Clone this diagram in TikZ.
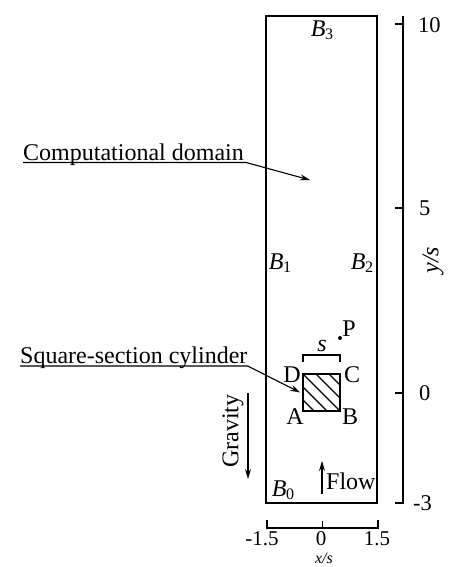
\documentclass[tikz,border=0pt]{standalone}
\usepackage{fontspec}
\setmainfont{Liberation Serif}
\usetikzlibrary{arrows.meta}
\newcommand\Bsub[1]{\textit{B}\kern-0.5pt\raisebox{-0.3ex}{\fontsize{16}{16}\selectfont #1}}
\begin{document}
\begin{tikzpicture}[x=1pt,y=-1pt,
  lab/.style={font=\fontsize{24}{28}\selectfont, inner sep=0pt},
  ticklab/.style={font=\fontsize{22.5}{26}\selectfont, inner sep=0pt},
  ax/.style={line width=1.1pt},
  arr/.style={line width=1.1pt, -{Stealth[length=10pt,width=6pt]}},
]
\useasboundingbox (0,0) rectangle (449,567);
% domain
\node[draw, line width=1.8pt, minimum width=111pt, minimum height=487pt, inner sep=0pt] (dom) at (321.5,259.5) {};
% cylinder
\node[draw, line width=1.5pt, minimum size=37pt, inner sep=0pt, path picture={
  \foreach \c in {-26,-13,0,13,26}
    \draw[line width=1.3pt] ([xshift=\c pt]path picture bounding box.north west) -- ++(42pt,-42pt);
}] (cyl) at (321.5,392.5) {};
% corner labels
\node[lab] (lA) at (295,417) {A};
\node[lab] (lB) at (350,417) {B};
\node[lab] (lC) at (352,375) {C};
\node[lab] (lD) at (292,375) {D};
% s dimension
\draw[ax] (303,362) -- (303,355) -- (340,355) -- (340,362);
\node[lab] (ls) at (322,346) {\textit{s}};
% point P
\fill (340,338) circle (2pt);
\node[lab] (lP) at (349,329) {P};
% boundary labels
\node[lab] (b3) at (322,30) {\Bsub{3}};
\node[lab] (b1) at (280,263) {\Bsub{1}};
\node[lab] (b2) at (362,263) {\Bsub{2}};
\node[lab] (b0) at (283,490) {\Bsub{0}};
% right axis
\draw[ax] (403,16) -- (403,503) -- (395,503);
\draw[ax] (395,24) -- (403,24);
\draw[ax] (395,208) -- (403,208);
\draw[ax] (395,393) -- (403,393);
\node[ticklab, anchor=west] (t10) at (418,25) {10};
\node[ticklab, anchor=west] (t5) at (419,208) {5};
\node[ticklab, anchor=west] (t0) at (419,393) {0};
\node[ticklab, anchor=west] (tm3) at (413,503) {-3};
\node[lab, rotate=90] (ys) at (433,260) {\textit{y/s}};
% bottom axis
\draw[ax] (267,520) -- (267,528) -- (378,528) -- (378,520);
\draw[ax] (322.5,528) -- (322.5,521);
\node[font=\fontsize{21}{24}\selectfont, inner sep=0pt, anchor=base] (xm) at (262,545) {-1.5};
\node[font=\fontsize{21}{24}\selectfont, inner sep=0pt, anchor=base] (x0) at (321,545) {0};
\node[font=\fontsize{21}{24}\selectfont, inner sep=0pt, anchor=base] (xp) at (377,545) {1.5};
\node[font=\fontsize{16}{18}\selectfont, inner sep=0pt, anchor=base] (xs) at (324,563.5) {\textit{x/s}};
% computational domain label
\node[lab, anchor=base west] (cd) at (23,160) {Computational domain};
\coordinate (cdtip) at (310,180);
\draw[arr] ([yshift=-2.5pt]cd.base west) -- ([xshift=2pt,yshift=-2.5pt]cd.base east) -- (cdtip);
% square-section label
\node[lab, anchor=base west] (sq) at (20,363) {Square-section cylinder};
\draw[arr] ([yshift=-3pt]sq.base west) -- ([yshift=-3pt]sq.base east) -- ([xshift=-2pt]cyl.west);
% gravity
\node[lab, rotate=90] (grav) at (233,431) {Gravity};
\coordinate (g1) at (248,393);
\coordinate (g2) at (248,479);
\draw[arr] (g1) -- (g2);
% flow
\coordinate (f0) at (322,494);
\coordinate (f1) at (322,461);
\draw[arr] (f0) -- (f1);
\node[lab, anchor=west] (flow) at (326,481) {Flow};
\end{tikzpicture}
\end{document}
